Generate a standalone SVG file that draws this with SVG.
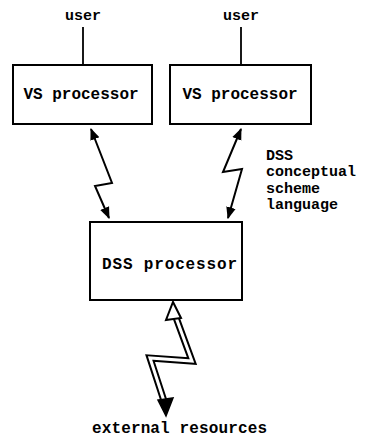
<svg xmlns="http://www.w3.org/2000/svg" width="366" height="440" viewBox="0 0 366 440">
  <style>
    .box { fill: #fff; stroke: #000; stroke-width: 2; }
    .lbl { font-family: "Liberation Mono", "DejaVu Sans Mono", monospace; font-weight: bold; fill: #000; }
    .wire { fill: none; stroke: #000; stroke-width: 1.8; }
    .link { fill: none; stroke: #000; stroke-width: 2; stroke-linejoin: miter; }
  </style>
  <defs>
    <marker id="head" viewBox="0 0 10 10" refX="9" refY="5" markerWidth="6" markerHeight="6" markerUnits="strokeWidth" orient="auto-start-reverse">
      <path d="M0,1 L10,5 L0,9 Z" fill="#000"/>
    </marker>
  </defs>
  <rect width="366" height="440" fill="#fff"/>

  <!-- user lines and protocol links -->
  <g id="connectors">
    <line class="wire" x1="83" y1="27" x2="83" y2="65"/>
    <line class="wire" x1="241" y1="27" x2="241" y2="65"/>
    <polyline class="link" points="91,129 112,183 95,186 109,218" marker-start="url(#head)" marker-end="url(#head)"/>
    <polyline class="link" points="241,129 223,172 242,169 228,218" marker-start="url(#head)" marker-end="url(#head)"/>
    <!-- hollow double-line link to external resources -->
    <polyline points="174,312 192,361 150,358 165,404" fill="none" stroke="#000" stroke-width="7" stroke-linejoin="miter"/>
    <polyline points="174,312 192,361 150,358 165,404" fill="none" stroke="#fff" stroke-width="3" stroke-linejoin="miter"/>
    <polygon points="173,302 181,318 166,320" fill="#fff" stroke="#000" stroke-width="2" stroke-linejoin="miter"/>
    <polygon points="166,416 158,400 173,398" fill="#000" stroke="#000" stroke-width="1.5"/>
  </g>

  <g id="user-left">
    <text class="lbl" x="83" y="20" font-size="15" text-anchor="middle">user</text>
  </g>
  <g id="user-right">
    <text class="lbl" x="241" y="20" font-size="15" text-anchor="middle">user</text>
  </g>

  <g id="vs-processor-left">
    <rect class="box" x="13" y="65" width="139" height="59"/>
    <text class="lbl" x="81" y="99" font-size="16" text-anchor="middle">VS processor</text>
  </g>
  <g id="vs-processor-right">
    <rect class="box" x="170" y="65" width="141" height="59"/>
    <text class="lbl" x="240" y="99" font-size="16" text-anchor="middle">VS processor</text>
  </g>

  <g id="dss-processor">
    <rect class="box" x="90" y="222" width="152" height="78"/>
    <text class="lbl" x="102" y="269" font-size="16" textLength="135" lengthAdjust="spacing">DSS processor</text>
  </g>

  <g id="dss-language-label">
    <text class="lbl" font-size="15">
      <tspan x="266" y="160">DSS</tspan>
      <tspan x="266" y="176">conceptual</tspan>
      <tspan x="266" y="193">scheme</tspan>
      <tspan x="266" y="209">language</tspan>
    </text>
  </g>

  <g id="external-resources">
    <text class="lbl" x="92" y="433" font-size="16" textLength="175" lengthAdjust="spacing">external resources</text>
  </g>
</svg>
